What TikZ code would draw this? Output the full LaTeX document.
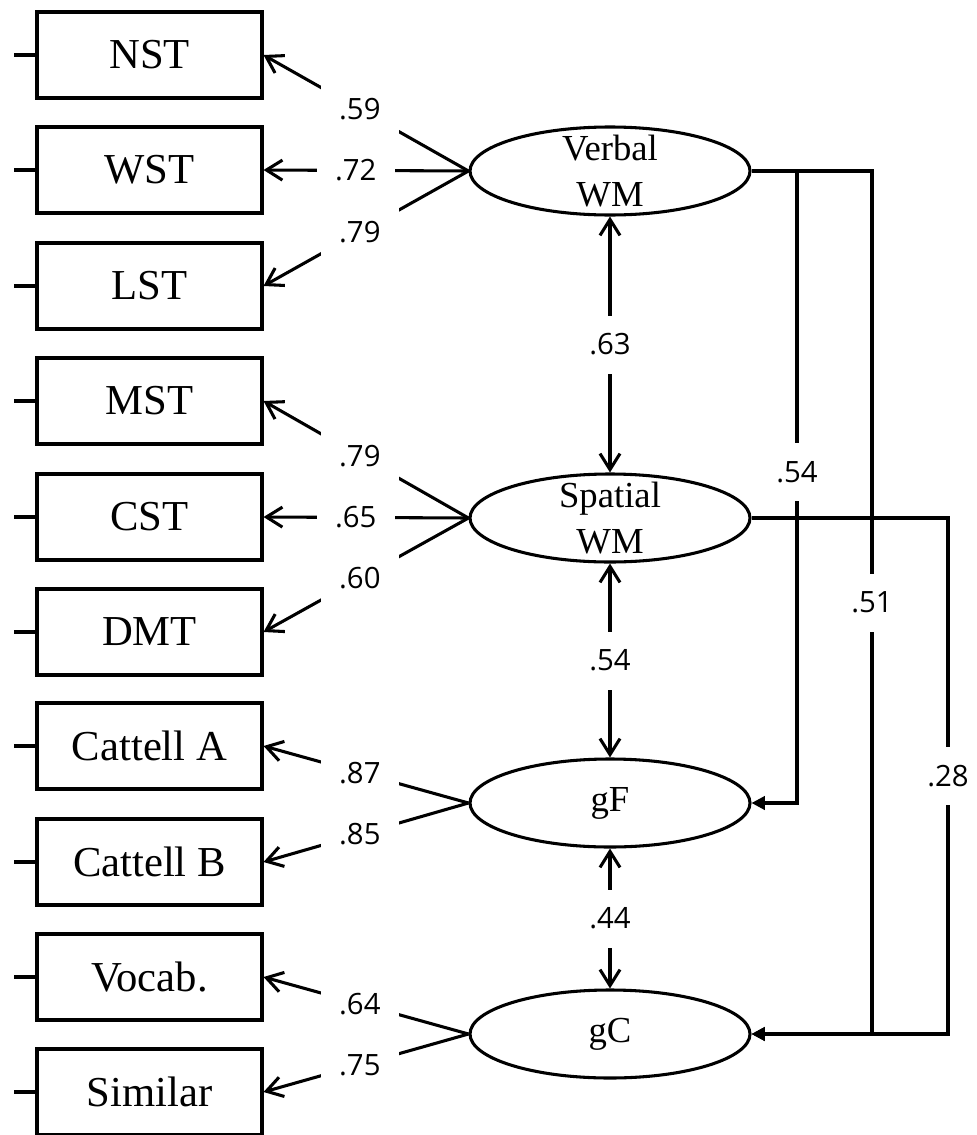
\documentclass[tikz,border=0pt]{standalone}
\usepackage{fontspec}
\setmainfont{Liberation Serif}
\newfontfamily\lblfont{Open Sans}
\usetikzlibrary{shapes.geometric,arrows.meta}
\begin{document}
\begin{tikzpicture}[x=0.75pt,y=-0.75pt, line width=2.3pt,
  obs/.style={draw, rectangle, minimum width=168.75pt, minimum height=64.5pt, inner sep=0pt,
    font=\fontsize{32}{36}\selectfont},
  lat/.style={draw, ellipse, minimum width=210pt, minimum height=66pt, inner sep=0pt},
  lattext/.style={align=center, inner sep=0pt, font=\fontsize{27.5}{34.5}\selectfont},
  lbl/.style={fill=white, minimum width=58.5pt, minimum height=43.5pt, inner sep=0pt,
    font=\lblfont\fontsize{22}{26}\selectfont},
  load/.style={-{Straight Barb[length=12pt,width=15pt]}},
  corr/.style={{Straight Barb[length=12pt,width=15pt]}-{Straight Barb[length=12pt,width=15pt]}},
  reg/.style={-{Triangle[length=10pt,width=10pt]}},
]
\useasboundingbox (0,0) rectangle (976,1135);

% observed variables
\node[obs] (nst) at (149.5,55) {NST};
\node[obs] (wst) at (149.5,170) {WST};
\node[obs] (lst) at (149.5,286) {LST};
\node[obs] (mst) at (149.5,401) {MST};
\node[obs] (cst) at (149.5,517) {CST};
\node[obs] (dmt) at (149.5,632) {DMT};
\node[obs] (cata) at (149.5,746) {Cattell A};
\node[obs] (catb) at (149.5,862) {Cattell B};
\node[obs] (voc) at (149.5,977) {Vocab.};
\node[obs] (sim) at (149.5,1092) {Similar};

% error stubs
\foreach \n in {nst,wst,lst,mst,cst,dmt,cata,catb,voc,sim}
  \draw (\n.west) -- ++(-21,0);

% latent variables
\node[lat] (vwm) at (610,171) {};
\node[lattext] (vwmt) at (vwm.center) {Verbal\\WM};
\node[lat] (swm) at (610,518) {};
\node[lattext] (swmt) at (swm.center) {Spatial\\WM};
\node[lat] (gf) at (610,803) {};
\node[lattext] (gft) at (gf.center) {gF};
\node[lat] (gc) at (610,1034) {};
\node[lattext] (gct) at (gc.center) {gC};

% loadings
\draw[load] (vwm.west) -- node[lbl,pos=0.53]{.59} (nst.east);
\draw[load] (vwm.west) -- node[lbl,pos=0.55]{.72} (wst.east);
\draw[load] (vwm.west) -- node[lbl,pos=0.53]{.79} (lst.east);
\draw[load] (swm.west) -- node[lbl,pos=0.53]{.79} (mst.east);
\draw[load] (swm.west) -- node[lbl,pos=0.55]{.65} (cst.east);
\draw[load] (swm.west) -- node[lbl,pos=0.53]{.60} (dmt.east);
\draw[load] (gf.west) -- node[lbl,pos=0.53]{.87} (cata.east);
\draw[load] (gf.west) -- node[lbl,pos=0.53]{.85} (catb.east);
\draw[load] (gc.west) -- node[lbl,pos=0.53]{.64} (voc.east);
\draw[load] (gc.west) -- node[lbl,pos=0.53]{.75} (sim.east);

% correlations
\draw[corr] (vwm.south) -- node[lbl]{.63} (swm.north);
\draw[corr] (swm.south) -- node[lbl]{.54} (gf.north);
\draw[corr] (gf.south) -- node[lbl]{.44} (gc.north);

% regression paths
\coordinate (v1) at (797,171);
\coordinate (v2) at (797,803);
\coordinate (v3) at (872,171);
\coordinate (v4) at (872,1034);
\coordinate (s1) at (948,518);
\coordinate (s2) at (948,1034);
\draw[reg] (vwm.east) -- (v1) -- node[lbl,pos=0.476]{.54} (v2) -- (gf.east);
\draw[reg] (vwm.east) -- (v3) -- node[lbl,pos=0.5]{.51} (v4) -- (gc.east);
\draw[reg] (swm.east) -- (s1) -- node[lbl,pos=0.5]{.28} (s2) -- (gc.east);
\end{tikzpicture}
\end{document}
